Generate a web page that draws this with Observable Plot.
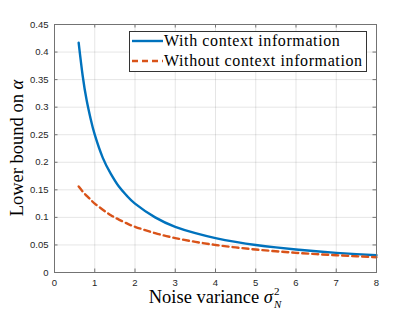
<!DOCTYPE html>
<html>
<head>
<meta charset="utf-8">
<script src="https://cdn.jsdelivr.net/npm/d3@7"></script>
<script src="https://cdn.jsdelivr.net/npm/@observablehq/plot@0.6"></script>
<style>
  html, body { margin: 0; padding: 0; background: #fff; }
  #wrap { position: relative; width: 415px; height: 312px; overflow: hidden; }
  #wrap > svg.overlay { position: absolute; left: 0; top: 0; pointer-events: none; }
  .legbox { position: absolute; box-sizing: border-box; border: 1px solid #333; background: #fff; }
  .legtext { position: absolute; font-family: "Liberation Serif", serif; font-size: 16px; letter-spacing: 0.6px; color: #000; white-space: nowrap; line-height: 20px; }
</style>
</head>
<body>
<div id="wrap"></div>
<script>
// ---- data ----
const noiseVariance = [0.6, 0.7, 0.8, 0.9, 1.0, 1.2, 1.4, 1.6, 1.8, 2.0, 2.5, 3.0, 3.5, 4.0, 4.5, 5.0, 5.5, 6.0, 6.5, 7.0, 7.5, 8.0];
const withContext = [0.417, 0.357, 0.312, 0.278, 0.250, 0.208, 0.179, 0.156, 0.139, 0.125, 0.100, 0.083, 0.0714, 0.0625, 0.0556, 0.050, 0.0455, 0.0417, 0.0385, 0.0357, 0.0333, 0.0313];
const withoutContext = [0.156, 0.147, 0.139, 0.132, 0.125, 0.114, 0.104, 0.096, 0.089, 0.083, 0.0714, 0.0625, 0.0556, 0.050, 0.0455, 0.0417, 0.0385, 0.0357, 0.0333, 0.0313, 0.0294, 0.0278];
const seriesNames = ["With context information", "Without context information"];
const seriesColors = ["#0072BD", "#D95319"];
const xTicks = [0, 1, 2, 3, 4, 5, 6, 7, 8];
const yTicks = [0, 0.05, 0.1, 0.15, 0.2, 0.25, 0.3, 0.35, 0.4, 0.45];
const yTickLabels = ["0", "0.05", "0.1", "0.15", "0.2", "0.25", "0.3", "0.35", "0.4", "0.45"];
const xDomain = [0, 8];
const yDomain = [0, 0.45];

// ---- layout ----
const W = 415, H = 312;
const mL = 54, mR = 39, mT = 24, mB = 40;
const plotW = W - mL - mR, plotH = H - mT - mB;
const tickPx = 3.5;
const tickLenX = (xDomain[1] - xDomain[0]) * tickPx / plotW;
const tickLenY = (yDomain[1] - yDomain[0]) * tickPx / plotH;
const axisColor = "#737373";
const tickFont = "Liberation Sans, Arial, Helvetica, sans-serif";

const rowsA = noiseVariance.map((x, i) => ({x, y: withContext[i]}));
const rowsB = noiseVariance.map((x, i) => ({x, y: withoutContext[i]}));

const chart = Plot.plot({
  width: W, height: H,
  marginLeft: mL, marginRight: mR, marginTop: mT, marginBottom: mB,
  style: {fontFamily: tickFont, background: "#fff", overflow: "visible"},
  x: {domain: xDomain},
  y: {domain: yDomain},
  marks: [
    Plot.gridX(xTicks, {stroke: "#000", strokeOpacity: 0.1}),
    Plot.gridY(yTicks, {stroke: "#000", strokeOpacity: 0.1}),
    Plot.line(rowsA, {x: "x", y: "y", stroke: seriesColors[0], strokeWidth: 2.4, curve: "natural"}),
    Plot.line(rowsB, {x: "x", y: "y", stroke: seriesColors[1], strokeWidth: 2.4, strokeDasharray: "6,4", curve: "natural"}),
    // inward ticks on all four sides
    Plot.ruleX(xTicks, {x: d => d, y1: yDomain[0], y2: yDomain[0] + tickLenY, stroke: axisColor}),
    Plot.ruleX(xTicks, {x: d => d, y1: yDomain[1] - tickLenY, y2: yDomain[1], stroke: axisColor}),
    Plot.ruleY(yTicks, {y: d => d, x1: xDomain[0], x2: xDomain[0] + tickLenX, stroke: axisColor}),
    Plot.ruleY(yTicks, {y: d => d, x1: xDomain[1] - tickLenX, x2: xDomain[1], stroke: axisColor}),
    Plot.frame({stroke: axisColor}),
    Plot.axisX({ticks: xTicks, tickSize: 0, tickPadding: 7, fontSize: 9.5, fill: "#262626", label: null}),
    Plot.axisY({ticks: yTicks, tickFormat: d => yTickLabels[yTicks.indexOf(d)], tickSize: 0, tickPadding: 6, fontSize: 9.5, fill: "#262626", label: null})
  ]
});
const wrap = document.getElementById("wrap");
wrap.appendChild(chart);

// ---- axis labels (overlay) ----
const ns = "http://www.w3.org/2000/svg";
const ov = document.createElementNS(ns, "svg");
ov.setAttribute("class", "overlay");
ov.setAttribute("width", W); ov.setAttribute("height", H);
ov.innerHTML = `
  <text x="${mL + plotW / 2}" y="303" text-anchor="middle" font-family="Liberation Serif, serif" font-size="18.5" fill="#000">Noise variance <tspan font-style="italic">σ</tspan><tspan font-size="11" dy="-8" dx="1">2</tspan><tspan font-size="11" font-style="italic" dx="-5.5" dy="13">N</tspan></text>
  <text transform="translate(22.5,${mT + plotH / 2}) rotate(-90)" text-anchor="middle" font-family="Liberation Serif, serif" font-size="18.5" fill="#000">Lower bound on <tspan font-style="italic">α</tspan></text>
`;
wrap.appendChild(ov);

// ---- legend ----
const leg = {left: 129, top: 31, width: 238, height: 41};
const box = document.createElement("div");
box.className = "legbox";
Object.assign(box.style, {left: leg.left + "px", top: leg.top + "px", width: leg.width + "px", height: leg.height + "px"});
wrap.appendChild(box);
seriesNames.forEach((name, i) => {
  const cy = leg.top + 9.5 + i * 20;
  const s = document.createElementNS(ns, "svg");
  s.setAttribute("width", 32); s.setAttribute("height", 6);
  s.style.position = "absolute"; s.style.left = (leg.left + 2.5) + "px"; s.style.top = (cy - 3) + "px";
  const ln = document.createElementNS(ns, "line");
  ln.setAttribute("x1", 0); ln.setAttribute("x2", 31); ln.setAttribute("y1", 3); ln.setAttribute("y2", 3);
  ln.setAttribute("stroke", seriesColors[i]); ln.setAttribute("stroke-width", 2.4);
  if (i === 1) ln.setAttribute("stroke-dasharray", "6,4");
  s.appendChild(ln);
  wrap.appendChild(s);
  const t = document.createElement("div");
  t.className = "legtext";
  t.textContent = name;
  t.style.left = (leg.left + 35) + "px";
  t.style.top = (cy - 10) + "px";
  wrap.appendChild(t);
});
</script>
</body>
</html>
